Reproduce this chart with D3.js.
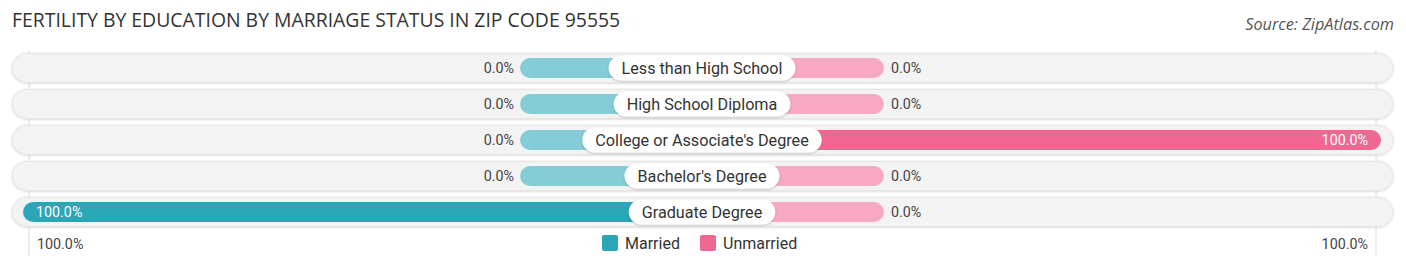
<!DOCTYPE html>
<html><head><meta charset="utf-8">
<script src="https://cdn.jsdelivr.net/npm/d3@7"></script>
<style>
body{margin:0;background:#fff;}
svg{display:block;}
</style></head>
<body>
<svg id="chart" width="1406" height="268"></svg>
<script>
const categories = ["Less than High School","High School Diploma","College or Associate's Degree","Bachelor's Degree","Graduate Degree"];
const married = [0,0,0,0,100];
const unmarried = [0,0,100,0,0];
const seriesNames = ["Married","Unmarried"];
const axisLabels = ["100.0%","100.0%"];

const W=1406, H=268, cx=702, half=679, stub=182;
const colM="#2aa6b7", colMl="#85cdd6", colU="#f06792", colUl="#f7a9c3";
const svg=d3.select("#chart");
const defs=svg.append("defs");
const f=defs.append("filter").attr("id","sh").attr("x","-10%").attr("y","-50%").attr("width","120%").attr("height","200%");
f.append("feDropShadow").attr("dx",0).attr("dy",1).attr("stdDeviation",1.2).attr("flood-color","#000").attr("flood-opacity",0.22);
const f2=defs.append("filter").attr("id","sh2").attr("x","-5%").attr("y","-50%").attr("width","110%").attr("height","200%");
f2.append("feDropShadow").attr("dx",0).attr("dy",0.5).attr("stdDeviation",1).attr("flood-color","#000").attr("flood-opacity",0.18);

svg.append("text").attr("x",12).attr("y",27).attr("font-family","Open Sans, sans-serif").attr("font-size",19.4)
  .attr("fill","#333").text("FERTILITY BY EDUCATION BY MARRIAGE STATUS IN ZIP CODE 95555");
svg.append("text").attr("x",1394).attr("y",30).attr("text-anchor","end").attr("font-family","Open Sans, sans-serif")
  .attr("font-style","italic").attr("font-size",16.3).attr("fill","#555").text("Source: ZipAtlas.com");

const y=d3.scaleBand().domain(categories).range([50,230]).paddingInner(0);
const xL=d3.scaleLinear().domain([0,100]).range([cx,cx-half]);
const xR=d3.scaleLinear().domain([0,100]).range([cx,cx+half]);

// grid lines
svg.append("g").selectAll("line").data([xL(100)+6,xR(100)-5]).join("line")
  .attr("x1",d=>d).attr("x2",d=>d).attr("y1",50).attr("y2",256).attr("stroke","#ddd").attr("stroke-width",1);

const rows=svg.append("g").selectAll("g").data(categories).join("g")
  .attr("transform",d=>`translate(0,${y(d)+y.bandwidth()/2})`);

rows.append("rect").attr("x",12).attr("y",-14.5).attr("width",1381).attr("height",29).attr("rx",14.5)
  .attr("fill","#f3f3f3").attr("stroke","#e2e2e2").attr("stroke-width",0.8).attr("filter","url(#sh2)");

const bh=20;
rows.append("rect").attr("x",(d,i)=>married[i]>0?xL(married[i]):cx-stub).attr("y",-bh/2)
  .attr("width",(d,i)=>married[i]>0?cx-xL(married[i]):stub).attr("height",bh).attr("rx",bh/2)
  .attr("fill",(d,i)=>married[i]>0?colM:colMl);
rows.append("rect").attr("x",cx).attr("y",-bh/2)
  .attr("width",(d,i)=>unmarried[i]>0?xR(unmarried[i])-cx:stub).attr("height",bh).attr("rx",bh/2)
  .attr("fill",(d,i)=>unmarried[i]>0?colU:colUl);

const fmt=v=>v.toFixed(1)+"%";
rows.append("text").attr("font-family","Roboto, sans-serif").attr("font-size",14.3).attr("dy","0.36em")
  .attr("x",(d,i)=>married[i]>0?xL(married[i])+13:cx-stub-6)
  .attr("text-anchor",(d,i)=>married[i]>0?"start":"end")
  .attr("fill",(d,i)=>married[i]>0?"#fff":"#444").text((d,i)=>fmt(married[i]));
rows.append("text").attr("font-family","Roboto, sans-serif").attr("font-size",14.3).attr("dy","0.36em")
  .attr("x",(d,i)=>unmarried[i]>0?xR(unmarried[i])-13:cx+stub+7)
  .attr("text-anchor",(d,i)=>unmarried[i]>0?"end":"start")
  .attr("fill",(d,i)=>unmarried[i]>0?"#fff":"#444").text((d,i)=>fmt(unmarried[i]));

// label pills
rows.each(function(d){
  const g=d3.select(this);
  const t=g.append("text").attr("x",cx).attr("dy","0.36em").attr("text-anchor","middle")
    .attr("font-family","Roboto, sans-serif").attr("font-size",16.2).attr("fill","#333").text(d);
  const w=t.node().getComputedTextLength()+26;
  g.insert("rect","text:last-of-type").attr("x",cx-w/2).attr("y",-12.5).attr("width",w).attr("height",25).attr("rx",12.5)
    .attr("fill","#fff").attr("filter","url(#sh)");
});

// axis labels
svg.append("text").attr("x",37).attr("y",249).attr("font-family","Roboto, sans-serif").attr("font-size",14.3).attr("fill","#444").text(axisLabels[0]);
svg.append("text").attr("x",1368).attr("y",249).attr("text-anchor","end").attr("font-family","Roboto, sans-serif").attr("font-size",14.3).attr("fill","#444").text(axisLabels[1]);

// legend
const leg=svg.append("g");
const lx=[602,700];
seriesNames.forEach((n,i)=>{
  leg.append("rect").attr("x",lx[i]).attr("y",235).attr("width",16).attr("height",16).attr("rx",2).attr("fill",i?colU:colM);
  leg.append("text").attr("x",lx[i]+23).attr("y",249).attr("font-family","Roboto, sans-serif").attr("font-size",16).attr("fill","#333").text(n);
});
</script>
</body></html>
